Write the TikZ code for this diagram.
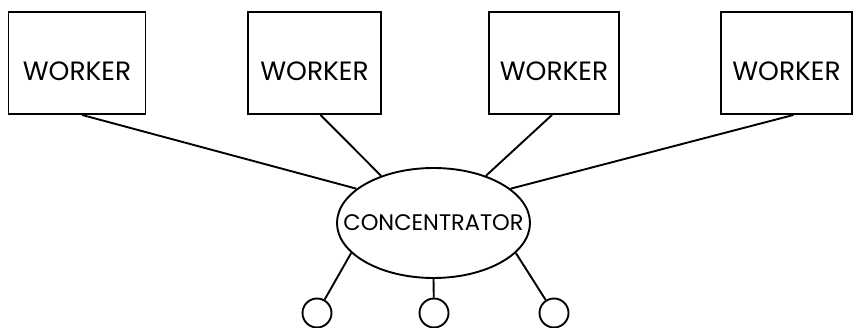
\documentclass[tikz,border=0pt]{standalone}
\usepackage{fontspec}
\setmainfont{Poppins}
\usetikzlibrary{shapes.geometric}

\begin{document}
\begin{tikzpicture}[x=1pt, y=-1pt, line width=1.9pt,
  worker/.style={draw, minimum height=102pt, inner sep=0pt,
    font=\fontsize{26.5}{26.5}\selectfont, text height=35pt, text depth=0pt},
  hub/.style={draw, ellipse, minimum width=193pt, minimum height=110pt,
    inner sep=0pt, font=\fontsize{22.5}{22.5}\selectfont},
  term/.style={draw, circle, minimum size=29pt, inner sep=0pt}]
\useasboundingbox (0,0) rectangle (854,328);
\foreach \n/\x/\w in {1/77/137, 2/314.5/133, 3/554/130, 4/786.5/131}
  \node[worker, minimum width=\w pt] (w\n) at (\x,63) {WORKER};
\node[hub] (conc) at (433.5,223) {\makebox[0pt]{CONCENTRATOR}};
\foreach \n/\x in {1/317, 2/434, 3/554} \node[term] (t\n) at (\x,313) {};
\foreach \n/\a/\s in {1/156/5, 2/138/6, 3/42/-2, 4/24/7}
  \draw ([xshift=\s pt]w\n.south) -- (conc.\a);
\foreach \n/\a in {1/200, 2/270, 3/340} \draw (conc.\a) -- (t\n);
\end{tikzpicture}
\end{document}
